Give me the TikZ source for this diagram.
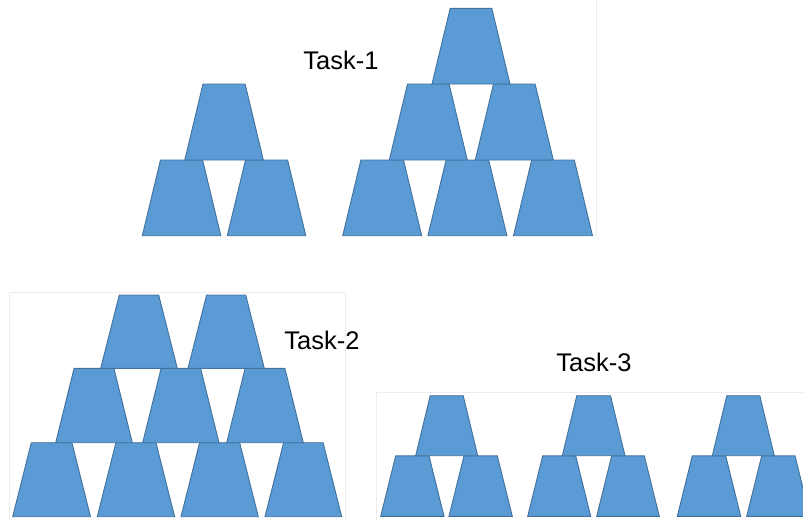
\documentclass[tikz,border=0pt]{standalone}
\usepackage{fontspec}
\setmainfont{Liberation Sans}
\definecolor{cupfill}{HTML}{5B9BD5}
\definecolor{cupline}{HTML}{41719C}
\definecolor{framegray}{HTML}{EDEDED}
\tikzset{
  cupstyle/.style={fill=cupfill, draw=cupline, line width=0.9pt, line join=miter},
  tasklabel/.style={font=\fontsize{25.5}{30}\selectfont, anchor=base, inner sep=0pt},
  framestyle/.style={draw=framegray, line width=0.8pt}
}
% #1 x of bottom-left, #2 y of bottom, #3 bottom width, #4 height, #5 inset
\newcommand{\cupshape}[5]{%
  \filldraw[cupstyle] (#1,#2) -- ++(#3,0) -- ++({-(#5)},{-(#4)}) -- ++({-(#3)+2*(#5)},0) -- cycle;}
\begin{document}
\begin{tikzpicture}[x=1pt,y=-1pt]
\useasboundingbox (0,0) rectangle (803,520);
\fill[white] (0,0) rectangle (803,520);
% faint frames
\draw[framestyle] (9.5,520) -- (9.5,292.5) -- (345,292.5) -- (345,520);
\draw[framestyle] (376.7,520) -- (376.7,392.5) -- (803,392.5);
\draw[framestyle] (596.7,0) -- (596.7,236);

% Task-1 labels
\node[tasklabel] (t1) at (341,69.3) {Task-1};
\node[tasklabel] (t2) at (322,349.3) {Task-2};
\node[tasklabel] (t3) at (594,371.7) {Task-3};

% Task-1 left pyramid
\cupshape{142.3}{235.7}{78.5}{75.7}{18.2}
\cupshape{227.3}{235.7}{78.5}{75.7}{18.2}
\cupshape{184.8}{160}{78.5}{76}{18.2}
% Task-1 right pyramid
\cupshape{342.7}{235.7}{79}{75.7}{18.2}
\cupshape{427.9}{235.7}{79}{75.7}{18.2}
\cupshape{513.5}{235.7}{79}{75.7}{18.2}
\cupshape{389.3}{160}{78}{76}{18.2}
\cupshape{475.3}{160}{78}{76}{18.2}
\cupshape{432}{84}{78}{75.7}{18.2}

% Task-2
\cupshape{12.7}{516.7}{77.8}{74}{18.6}
\cupshape{97.3}{516.7}{77.3}{74}{18.6}
\cupshape{181}{516.7}{77.3}{74}{18.6}
\cupshape{265}{516.7}{76.7}{74}{18.6}
\cupshape{55.7}{442.7}{76.6}{74.4}{18.4}
\cupshape{142.7}{442.7}{76.3}{74.4}{18.4}
\cupshape{226.7}{442.7}{76.6}{74.4}{18.4}
\cupshape{100.7}{368.3}{76.6}{73.3}{18.6}
\cupshape{188}{368.3}{76.3}{73.3}{18.6}

% Task-3 pyramid 1
\cupshape{380.7}{516.3}{63.3}{60.5}{15}
\cupshape{449}{516.3}{63.3}{60.5}{15}
\cupshape{415.7}{455.7}{62}{60}{14.5}
% Task-3 pyramid 2
\cupshape{527.7}{516.3}{63}{60.5}{15}
\cupshape{596.7}{516.3}{62.6}{60.5}{15}
\cupshape{562.3}{455.7}{62.7}{60}{14.5}
% Task-3 pyramid 3
\cupshape{677.3}{516.3}{63.4}{60.5}{15}
\cupshape{746.7}{516.3}{63.3}{60.5}{15}
\cupshape{712.3}{455.7}{62}{60}{14.5}
\end{tikzpicture}
\end{document}
